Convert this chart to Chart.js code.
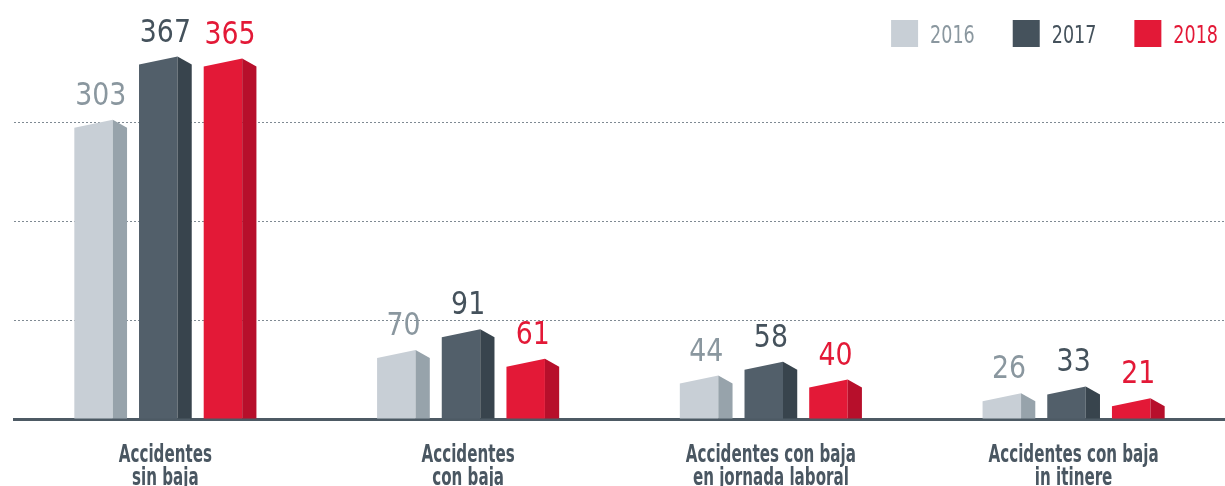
<!DOCTYPE html>
<html>
<head>
<meta charset="utf-8">
<script src="https://cdn.jsdelivr.net/npm/chart.js@4.4.1/dist/chart.umd.min.js"></script>
<style>
  html, body { margin: 0; padding: 0; background: #ffffff; }
  canvas { display: block; }
</style>
</head>
<body>
<canvas id="chart" width="1225" height="486"></canvas>
<script>
// Categories (two-line labels under the axis)
const categories = [
  ["Accidentes", "sin baja"],
  ["Accidentes", "con baja"],
  ["Accidentes con baja", "en jornada laboral"],
  ["Accidentes con baja", "in itinere"]
];
const years = ["2016", "2017", "2018"];
const values2016 = [303, 70, 44, 26];
const values2017 = [367, 91, 58, 33];
const values2018 = [365, 61, 40, 21];
const gridValues = [100, 200, 300];

const NARROW = "'DejaVu Sans Condensed', 'DejaVu Sans', sans-serif";

// front face, side face, value-label and legend-key colours per year
const palette = [
  { front: '#c8cfd6', side: '#97a3ab', text: '#8a979f', key: '#c8cfd6' },
  { front: '#525f6a', side: '#38444d', text: '#45525c', key: '#45525c' },
  { front: '#e31937', side: '#b70f2b', text: '#e31937', key: '#e31937' }
];

// text squeezed horizontally to get a condensed face
function squeezedText(ctx, text, x, y, sx) {
  ctx.save();
  ctx.translate(x, y);
  ctx.scale(sx, 1);
  ctx.fillText(text, 0, 0);
  ctx.restore();
}

// Draws each bar as a small prism: front face, shaded side face and a pitched top,
// plus the value printed above it.
const prismBars = {
  id: 'prismBars',
  afterDatasetsDraw(chart) {
    const ctx = chart.ctx;
    ctx.save();
    chart.data.datasets.forEach((ds, di) => {
      const meta = chart.getDatasetMeta(di);
      const col = palette[di];
      meta.data.forEach((bar, i) => {
        const { x, y, base, width } = bar.getProps(['x', 'y', 'base', 'width'], true);
        const left = x - width / 2;
        const right = x + width / 2;
        const edge = left + width * 0.73;
        const pitch = 8;

        ctx.fillStyle = col.front;
        ctx.beginPath();
        ctx.moveTo(left, base);
        ctx.lineTo(left, y + pitch);
        ctx.lineTo(edge, y);
        ctx.lineTo(edge, base);
        ctx.closePath();
        ctx.fill();

        ctx.fillStyle = col.side;
        ctx.beginPath();
        ctx.moveTo(edge, base);
        ctx.lineTo(edge, y);
        ctx.lineTo(right, y + pitch);
        ctx.lineTo(right, base);
        ctx.closePath();
        ctx.fill();

        ctx.fillStyle = col.text;
        ctx.font = `32px ${NARROW}`;
        ctx.textAlign = 'center';
        ctx.textBaseline = 'alphabetic';
        squeezedText(ctx, String(ds.data[i]), x, y - 15, 0.93);
      });
    });
    ctx.restore();
  }
};

// Category names under the axis, two lines each
const categoryNames = {
  id: 'categoryNames',
  afterDraw(chart) {
    const ctx = chart.ctx;
    const xs = chart.scales.x;
    ctx.save();
    ctx.font = `bold 24px ${NARROW}`;
    ctx.fillStyle = '#4a5762';
    ctx.textAlign = 'center';
    ctx.textBaseline = 'alphabetic';
    const top = chart.chartArea.bottom;
    categories.forEach((lines, i) => {
      const cx = xs.getPixelForValue(i);
      lines.forEach((line, li) => {
        squeezedText(ctx, line, cx, top + 43 + li * 23, 0.70);
      });
    });
    ctx.restore();
  }
};

// Year key in the top-right corner
const yearKey = {
  id: 'yearKey',
  afterDraw(chart) {
    const ctx = chart.ctx;
    ctx.save();
    ctx.font = `25px ${NARROW}`;
    ctx.textBaseline = 'alphabetic';
    ctx.textAlign = 'left';
    const sx = 0.78;
    const box = 27, gapText = 12, gapItem = 38;
    let xr = chart.width - 7;
    for (let i = years.length - 1; i >= 0; i--) {
      const tw = ctx.measureText(years[i]).width * sx;
      const tx = xr - tw;
      const bx = tx - gapText - box;
      ctx.fillStyle = palette[i].key;
      ctx.fillRect(bx, 20, box, box);
      ctx.fillStyle = palette[i].text;
      squeezedText(ctx, years[i], tx, 43, sx);
      xr = bx - gapItem;
    }
    ctx.restore();
  }
};

const datasets = [values2016, values2017, values2018].map((vals, i) => ({
  label: years[i],
  data: vals,
  backgroundColor: 'rgba(0,0,0,0)',
  borderWidth: 0,
  categoryPercentage: 0.641,
  barPercentage: 0.815
}));

new Chart(document.getElementById('chart'), {
  type: 'bar',
  data: { labels: categories, datasets },
  plugins: [prismBars, categoryNames, yearKey],
  options: {
    responsive: false,
    devicePixelRatio: 1,
    animation: false,
    layout: { padding: { top: 24, left: 14, right: 0, bottom: 0 } },
    plugins: { legend: { display: false }, tooltip: { enabled: false } },
    scales: {
      x: {
        z: 1,
        grid: { display: false, drawTicks: false },
        border: { display: true, color: '#4d5a64', width: 3 },
        ticks: { display: false },
        afterFit(scale) { scale.height = 67; }
      },
      y: {
        min: 0,
        max: 400,
        ticks: { display: false, stepSize: 100 },
        border: { display: false, dash: [2, 2] },
        grid: {
          drawTicks: false,
          lineWidth: 1,
          color: (c) => gridValues.includes(c.tick && c.tick.value) ? '#7f8a93' : 'rgba(0,0,0,0)'
        }
      }
    }
  }
});
</script>
</body>
</html>
